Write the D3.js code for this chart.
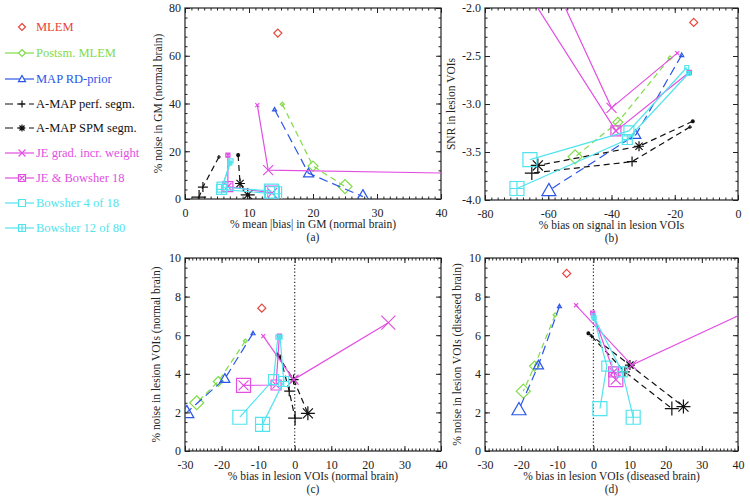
<!DOCTYPE html>
<html>
<head>
<meta charset="UTF-8">
<title>noise vs bias</title>
<style>
  body { margin: 0; background: #fff; }
  svg text { font-family: "Liberation Serif", "DejaVu Serif", "Times New Roman", Times, serif !important; }
</style>
</head>
<body>
<svg width="750" height="501" font-family="Liberation Serif, DejaVu Serif, serif"></svg>
<script src="https://d3js.org/d3.v7.min.js"></script>
<script>
(function () {
  "use strict";

  var FONT = "'Liberation Serif', 'DejaVu Serif', 'Times New Roman', serif";

  // legend / series
  var series = ["MLEM", "Postsm. MLEM", "MAP RD-prior", "A-MAP perf. segm.", "A-MAP SPM segm.",
                "JE grad. incr. weight", "JE & Bowsher 18", "Bowsher 4 of 18", "Bowsher 12 of 80"];
  var colors = ["#e8443a", "#80dc48", "#2b56e8", "#111111", "#111111", "#e24fe2", "#e24fe2", "#52e4ee", "#52e4ee"];
  var dashes = [null, "6,4", "9,5", "6,4", "6,4", null, null, null, null];
  var symbols = ["diamond", "diamond", "triangle", "plus", "star", "cross", "squarex", "square", "squareplus"];

  // (a) % mean |bias| in GM vs % noise in GM (normal brain)
  var panelA = [
    [[14.5, 69.5]],
    [[15.2, 39.7], [20, 13.8], [25, 5.2]],
    [[14, 37.5], [19.3, 10.8], [27.8, 1]],
    [[5.3, 17.6], [2.8, 5], [2.2, 0.8]],
    [[8.3, 18.4], [8.6, 6.5], [9.8, 1.7]],
    [[11.3, 39.3], [13, 12.1], [60, 10]],
    [[6.7, 18.4], [6.7, 5.2], [13.6, 2.5]],
    [[7.2, 16], [5.8, 5], [13.5, 3.3]],
    [[7, 15], [5.7, 4], [14, 2.2]]
  ];

  // (b) % bias on signal vs SNR in lesion VOIs
  var panelB = [
    [[-14, -2.15]],
    [[-21.5, -2.52], [-38, -3.19], [-51.5, -3.55]],
    [[-17.8, -2.49], [-32.3, -3.32], [-59.8, -3.9]],
    [[-15.2, -3.24], [-33.5, -3.6], [-65.2, -3.72]],
    [[-14.3, -3.18], [-31.3, -3.44], [-63.3, -3.64]],
    [[-19.2, -2.47], [-40, -3.04], [-61.6, -1.5]],
    [[-15.4, -2.67], [-38.6, -3.28], [-73, -1.5]],
    [[-16.2, -2.62], [-34.5, -3.28], [-65.8, -3.58]],
    [[-15.6, -2.68], [-35, -3.37], [-69.9, -3.88]]
  ];

  // (c) % bias vs % noise in lesion VOIs (normal brain)
  var panelC = [
    [[-9, 7.4]],
    [[-13.5, 5.7], [-20.9, 3.6], [-26.8, 2.5]],
    [[-11.4, 6.1], [-19.1, 3.75], [-29.5, 2.0]],
    [[-4, 4.9], [-1.5, 3.1], [0.1, 1.7]],
    [[-4.8, 5.0], [-0.3, 3.7], [3.6, 1.95]],
    [[-8.6, 5.95], [-0.3, 3.7], [25.6, 6.65]],
    [[-4.2, 5.95], [-5.1, 3.42], [-14, 3.4]],
    [[-4.6, 5.9], [-5.8, 3.7], [-15, 1.75]],
    [[-4, 5.9], [-3, 3.6], [-8.8, 1.38]]
  ];

  // (d) % bias vs % noise in lesion VOIs (diseased brain)
  var panelD = [
    [[-7.4, 9.2]],
    [[-10.6, 7.05], [-16.3, 4.4], [-19.4, 3.1]],
    [[-9.4, 7.5], [-15.2, 4.45], [-20.6, 2.15]],
    [[-0.5, 5.95], [8.7, 4.1], [21.7, 2.2]],
    [[-1.4, 6.1], [10.1, 4.45], [24.9, 2.3]],
    [[-4.8, 7.55], [10.6, 4.45], [55, 8.3]],
    [[-0.2, 7.15], [5.6, 4.1], [6.2, 3.7]],
    [[0, 7.0], [3.7, 4.4], [1.8, 2.2]],
    [[0.2, 6.9], [8, 4.1], [11, 1.75]]
  ];

  var svg = d3.select("svg");

  // marker shapes
  function symPath(t, r) {
    var sq = "M" + (-r) + "," + (-r) + "H" + r + "V" + r + "H" + (-r) + "Z";
    var pl = "M" + (-r) + ",0H" + r + "M0," + (-r) + "V" + r;
    var q = r * 0.72;
    var xx = "M" + (-q) + "," + (-q) + "L" + q + "," + q + "M" + q + "," + (-q) + "L" + (-q) + "," + q;
    var xb = "M" + (-r) + "," + (-r) + "L" + r + "," + r + "M" + r + "," + (-r) + "L" + (-r) + "," + r;
    if (t === "diamond") return "M0," + (-r) + "L" + r + ",0L0," + r + "L" + (-r) + ",0Z";
    if (t === "triangle") return "M0," + (-r) + "L" + r + "," + (r * 0.75) + "L" + (-r) + "," + (r * 0.75) + "Z";
    if (t === "plus") return pl;
    if (t === "star") return pl + xx;
    if (t === "cross") return xb;
    if (t === "squarex") return sq + xx;
    if (t === "square") return sq;
    if (t === "squareplus") return sq + pl;
    return sq;
  }

  var sizes = [2, 5, 7];

  function drawPanel(p) {
    var g = svg.append("g");
    var x = d3.scaleLinear().domain(p.xd).range([p.x0, p.x1]);
    var y = d3.scaleLinear().domain(p.yd).range([p.y1, p.y0]);
    var h = p.y1 - p.y0, w = p.x1 - p.x0;

    var xMaj = d3.range(p.xd[0], p.xd[1] + 1e-9, p.xStep);
    var xMin = d3.range(p.xd[0], p.xd[1] + 1e-9, p.xMinor);
    var yMaj = d3.range(p.yd[0], p.yd[1] + 1e-9, p.yStep);
    var yMin = d3.range(p.yd[0], p.yd[1] + 1e-9, p.yMinor);

    // ticks on all four sides, pointing in
    g.append("g").attr("transform", "translate(0," + p.y1 + ")")
      .call(d3.axisBottom(x).tickValues(xMaj).tickSize(-5).tickPadding(9).tickFormat(p.xFmt));
    g.append("g").attr("transform", "translate(0," + p.y1 + ")")
      .call(d3.axisBottom(x).tickValues(xMin).tickSize(-2.5).tickFormat(""));
    g.append("g").attr("transform", "translate(0," + p.y0 + ")")
      .call(d3.axisTop(x).tickValues(xMaj).tickSize(-5).tickFormat(""));
    g.append("g").attr("transform", "translate(0," + p.y0 + ")")
      .call(d3.axisTop(x).tickValues(xMin).tickSize(-2.5).tickFormat(""));
    g.append("g").attr("transform", "translate(" + p.x0 + ",0)")
      .call(d3.axisLeft(y).tickValues(yMaj).tickSize(-5).tickPadding(4).tickFormat(p.yFmt));
    g.append("g").attr("transform", "translate(" + p.x0 + ",0)")
      .call(d3.axisLeft(y).tickValues(yMin).tickSize(-2.5).tickFormat(""));
    g.append("g").attr("transform", "translate(" + p.x1 + ",0)")
      .call(d3.axisRight(y).tickValues(yMaj).tickSize(-5).tickFormat(""));
    g.append("g").attr("transform", "translate(" + p.x1 + ",0)")
      .call(d3.axisRight(y).tickValues(yMin).tickSize(-2.5).tickFormat(""));

    g.selectAll("g").attr("font-family", FONT);
    g.selectAll(".domain").remove();
    g.selectAll(".tick line").attr("stroke", "#222").attr("stroke-width", 1);
    g.selectAll(".tick text").attr("font-size", 12).attr("fill", "#222")
      .attr("font-family", FONT);

    g.append("rect").attr("x", p.x0).attr("y", p.y0).attr("width", w).attr("height", h)
      .attr("fill", "none").attr("stroke", "#222").attr("stroke-width", 1.2);

    // titles
    g.append("text").attr("x", (p.x0 + p.x1) / 2).attr("y", p.y1 + 29)
      .attr("text-anchor", "middle").attr("font-size", 11.5).attr("fill", "#222")
      .attr("font-family", FONT).text(p.xTitle);
    g.append("text").attr("x", (p.x0 + p.x1) / 2).attr("y", p.y1 + 42)
      .attr("text-anchor", "middle").attr("font-size", 11.5).attr("fill", "#222")
      .attr("font-family", FONT).text(p.tag);
    g.append("text").attr("transform", "translate(" + p.yTitleX + "," + ((p.y0 + p.y1) / 2) + ") rotate(-90)")
      .attr("dy", "0.35em").attr("text-anchor", "middle").attr("font-size", 11.5).attr("fill", "#222")
      .attr("font-family", FONT).text(p.yTitle);

    var clipId = "clip" + p.tag.replace(/[()]/g, "");
    svg.append("clipPath").attr("id", clipId).append("rect")
      .attr("x", p.x0).attr("y", p.y0).attr("width", w).attr("height", h);
    var plot = g.append("g").attr("clip-path", "url(#" + clipId + ")");

    if (p.zero) {
      plot.append("line").attr("x1", x(0)).attr("x2", x(0)).attr("y1", p.y0).attr("y2", p.y1)
        .attr("stroke", "#222").attr("stroke-width", 1.2).attr("stroke-dasharray", "1.2,2.2");
    }

    var line = d3.line().x(function (d) { return x(d[0]); }).y(function (d) { return y(d[1]); });

    p.data.forEach(function (pts, i) {
      if (pts.length > 1) {
        plot.append("path").attr("d", line(pts)).attr("fill", "none")
          .attr("stroke", colors[i]).attr("stroke-width", 1.2)
          .attr("stroke-dasharray", dashes[i]);
      }
      plot.selectAll(null).data(pts).enter().append("path")
        .attr("transform", function (d) { return "translate(" + x(d[0]) + "," + y(d[1]) + ")"; })
        .attr("d", function (d, j) { return symPath(symbols[i], pts.length === 1 ? 4 : sizes[j]); })
        .attr("fill", "none").attr("stroke", colors[i]).attr("stroke-width", 1.2);
    });
  }

  var intFmt = function (d) { return String(d); };

  drawPanel({ x0: 185, x1: 441, y0: 8, y1: 199, xd: [0, 40], yd: [0, 80],
    xStep: 10, xMinor: 1, yStep: 20, yMinor: 4, xFmt: intFmt, yFmt: intFmt,
    xTitle: "% mean |bias| in GM (normal brain)", yTitle: "% noise in GM (normal brain)",
    tag: "(a)", yTitleX: 158, data: panelA });

  drawPanel({ x0: 485, x1: 738, y0: 8, y1: 200, xd: [-80, 0], yd: [-4, -2],
    xStep: 20, xMinor: 2, yStep: 0.5, yMinor: 0.1, xFmt: intFmt,
    yFmt: function (d) { return d.toFixed(1); },
    xTitle: "% bias on signal in lesion VOIs", yTitle: "SNR in lesion VOIs",
    tag: "(b)", yTitleX: 451, data: panelB });

  drawPanel({ x0: 185, x1: 441, y0: 258, y1: 451, xd: [-30, 40], yd: [0, 10],
    xStep: 10, xMinor: 1, yStep: 2, yMinor: 0.5, xFmt: intFmt, yFmt: intFmt,
    xTitle: "% bias in lesion VOIs (normal brain)", yTitle: "% noise in lesion VOIs (normal brain)",
    tag: "(c)", yTitleX: 156, data: panelC, zero: true });

  drawPanel({ x0: 485, x1: 738, y0: 258, y1: 451, xd: [-30, 40], yd: [0, 10],
    xStep: 10, xMinor: 1, yStep: 2, yMinor: 0.5, xFmt: intFmt, yFmt: intFmt,
    xTitle: "% bias in lesion VOIs (diseased brain)", yTitle: "% noise in lesion VOIs (diseased brain)",
    tag: "(d)", yTitleX: 457, data: panelD, zero: true });

  // legend
  var legendY = [27, 53, 79, 104, 128, 153, 178, 203, 228];
  var leg = svg.append("g");
  series.forEach(function (name, i) {
    var row = leg.append("g").attr("transform", "translate(0," + legendY[i] + ")");
    if (i > 0) {
      row.append("line").attr("x1", 5).attr("x2", 34).attr("y1", 0).attr("y2", 0)
        .attr("stroke", colors[i]).attr("stroke-width", 1.2)
        .attr("stroke-dasharray", i >= 3 && i <= 4 ? "8,4" : null);
    }
    row.append("path").attr("transform", "translate(22,0)")
      .attr("d", symPath(symbols[i], 3.5))
      .attr("fill", i > 0 ? "#fff" : "none").attr("stroke", colors[i]).attr("stroke-width", 1.2);
    row.append("text").attr("x", 36).attr("y", 4).attr("font-size", 12.5)
      .attr("font-family", FONT).attr("fill", colors[i]).text(name);
  });
})();
</script>
</body>
</html>
